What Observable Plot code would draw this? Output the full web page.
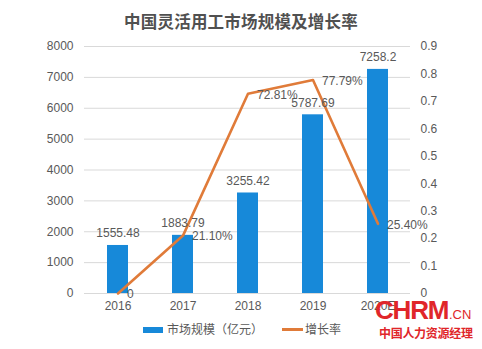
<!DOCTYPE html>
<html>
<head>
<meta charset="utf-8">
<script src="https://cdn.jsdelivr.net/npm/d3@7"></script>
<script src="https://cdn.jsdelivr.net/npm/@observablehq/plot@0.6"></script>
<style>
  html, body { margin: 0; padding: 0; background: #fff; }
  #wrap { position: relative; width: 482px; height: 349px; overflow: hidden; font-family: "Liberation Sans", "Noto Sans CJK SC", sans-serif; }
  #title { position: absolute; left: 0; width: 482px; top: 9px; text-align: center; font-size: 16.5px; font-weight: bold; color: #505050; font-family: "Noto Sans CJK SC", sans-serif; letter-spacing: 0.2px; }
  #chart { position: absolute; left: 0; top: 0; }
  .leg { position: absolute; top: 321px; font-size: 12px; color: #595959; font-family: "Noto Sans CJK SC", sans-serif; line-height: 16px; }
  .wm { position: absolute; color: #e0262a; font-weight: bold; }
</style>
</head>
<body>
<div id="wrap">
  <div id="chart"></div>
  <div id="title">中国灵活用工市场规模及增长率</div>
  <div class="leg" style="left:143px;"><span style="display:inline-block;width:20px;height:6px;background:#1789d9;vertical-align:middle;margin-right:4px;position:relative;top:-1px;"></span>市场规模（亿元）</div>
  <div class="leg" style="left:282px;"><span style="display:inline-block;width:21px;height:3px;background:#e07b39;vertical-align:middle;margin-right:2px;position:relative;top:-1px;"></span>增长率</div>
  <div class="wm" style="left:375px;top:295px;font-size:26px;font-family:'Liberation Sans',sans-serif;letter-spacing:-1.2px;">CHRM</div>
  <div class="wm" style="left:449px;top:307px;font-size:13px;font-weight:normal;font-family:'Liberation Sans',sans-serif;">.CN</div>
  <div class="wm" style="left:379px;top:324px;font-size:12px;font-family:'Noto Sans CJK SC',sans-serif;letter-spacing:-0.3px;">中国人力资源经理</div>
</div>
<script>
const years = ["2016", "2017", "2018", "2019", "2020E"];
const marketSize = [1555.48, 1883.79, 3255.42, 5787.69, 7258.2];
const marketLabels = ["1555.48", "1883.79", "3255.42", "5787.69", "7258.2"];
const growthRate = [0, 0.211, 0.7281, 0.7779, 0.254];
const growthLabels = ["0", "21.10%", "72.81%", "77.79%", "25.40%"];
const leftTicks = [0, 1000, 2000, 3000, 4000, 5000, 6000, 7000, 8000];
const rightTicks = [0, 0.1, 0.2, 0.3, 0.4, 0.5, 0.6, 0.7, 0.8, 0.9];

const leftMax = 8000, rightMax = 0.9;
const toLeft = r => r * leftMax / rightMax;

const rows = years.map((y, i) => ({
  year: y, size: marketSize[i], sizeLabel: marketLabels[i],
  rate: growthRate[i], rateY: toLeft(growthRate[i]), rateLabel: growthLabels[i]
}));

const gray = "#595959";
const chart = Plot.plot({
  width: 482,
  height: 349,
  marginTop: 46,
  marginBottom: 56,
  marginLeft: 84,
  marginRight: 72,
  style: { fontFamily: "Liberation Sans, Noto Sans CJK SC, sans-serif", fontSize: "12px", color: gray, background: "transparent" },
  x: { domain: years, paddingInner: 0.68, paddingOuter: 0.34, label: null },
  y: { domain: [0, leftMax], label: null },
  marks: [
    Plot.ruleY(leftTicks, { stroke: "#d9d9d9", strokeWidth: 1 }),
    Plot.axisY(leftTicks, { anchor: "left", tickSize: 0, tickPadding: 11, label: null, fill: gray, tickFormat: d => String(d) }),
    Plot.axisY(rightTicks.map(toLeft), { anchor: "right", tickSize: 0, tickPadding: 10, label: null, fill: gray,
      tickFormat: (d, i) => String(rightTicks[i]) }),
    Plot.axisX({ tickSize: 0, tickPadding: 8, label: null, fill: gray }),
    Plot.barY(rows, { x: "year", y: "size", fill: "#1789d9" }),
    Plot.line(rows, { x: "year", y: "rateY", stroke: "#e07b39", strokeWidth: 2.6 }),
    Plot.text(rows, { x: "year", y: "size", text: "sizeLabel", dy: -12, fill: gray, fontSize: 12 }),
    Plot.text(rows, { x: "year", y: "rateY", text: "rateLabel", textAnchor: "start", dx: 9, dy: 1, fill: gray, fontSize: 12 })
  ]
});
document.getElementById("chart").appendChild(chart);
</script>
</body>
</html>
